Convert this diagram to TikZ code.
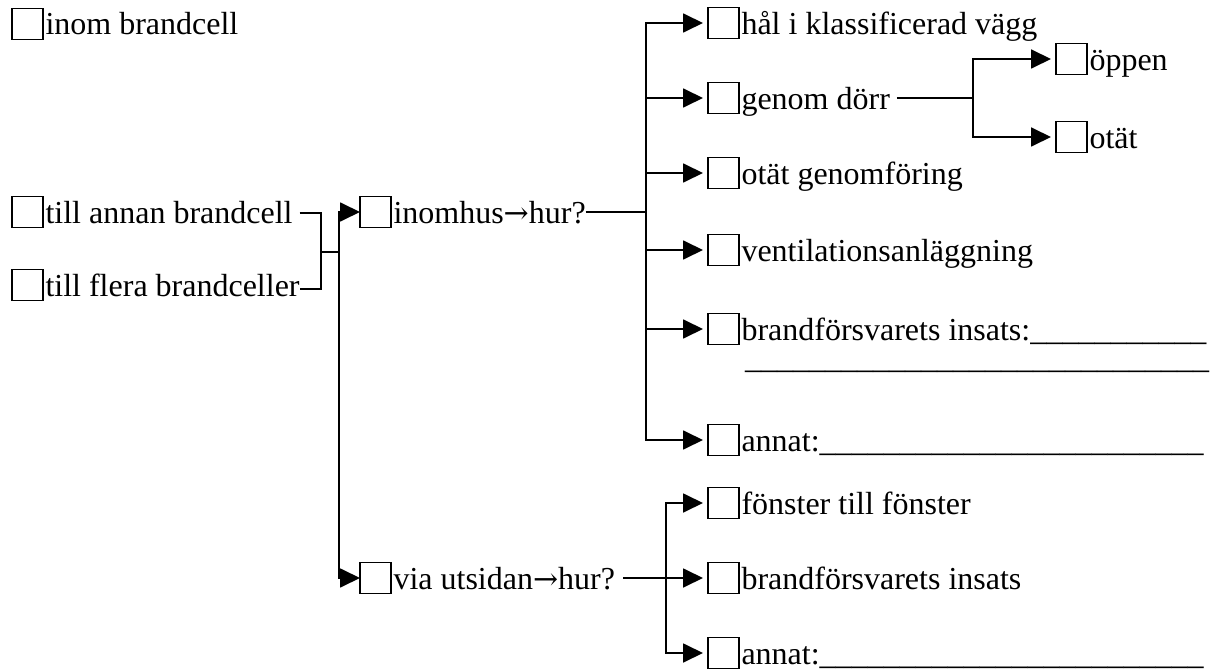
\documentclass[tikz,border=0pt]{standalone}
\usepackage{fontspec}
\setmainfont{Liberation Serif}
\newfontfamily\arrfont{DejaVu Serif}
\usetikzlibrary{arrows.meta}
\newcommand\cbitem[4]{%
  \node[chk] (#1b) at (#2,#3) {};
  \node[lbl] (#1) at ([xshift=2.5pt,yshift=-11.3pt]#1b.east) {#4};}
\newcommand\harr{{\arrfont\fontsize{30}{38}\selectfont →}}
\begin{document}
\begin{tikzpicture}[x=1pt,y=-1pt,
  chk/.style={draw, line width=1.1pt, minimum width=31pt, minimum height=31pt, inner sep=0pt, outer sep=0pt, anchor=west},
  lbl/.style={anchor=base west, inner sep=0pt, outer sep=0pt, font=\fontsize{32}{38}\selectfont},
  con/.style={line width=1.8pt},
  arr/.style={con, -{Triangle[length=20pt,width=19pt]}, shorten >=5pt}]
\useasboundingbox (0,0) rectangle (1210,671);

\cbitem{inom}{12}{23.7}{inom brandcell}
\cbitem{annan}{12}{212}{till annan brandcell}
\cbitem{flera}{12}{285}{till flera brandceller}
\cbitem{inomhus}{360}{212}{inomhus\harr hur?}
\cbitem{via}{360}{578}{via utsidan\harr hur?}
\cbitem{hal}{708}{23}{hål i klassificerad vägg}
\cbitem{dorr}{708}{98}{genom dörr}
\cbitem{oppen}{1056}{59}{öppen}
\cbitem{otat}{1056}{137}{otät}
\cbitem{genomf}{708}{173}{otät genomföring}
\cbitem{vent}{708}{250}{ventilationsanläggning}
\cbitem{brand}{708}{329}{brandförsvarets insats:\_\_\_\_\_\_\_\_\_\_\_}
\node[lbl, text height=0pt] (brandline) at (745,368) {\_\_\_\_\_\_\_\_\_\_\_\_\_\_\_\_\_\_\_\_\_\_\_\_\_\_\_\_\_};
\cbitem{annat}{708}{440}{annat:\_\_\_\_\_\_\_\_\_\_\_\_\_\_\_\_\_\_\_\_\_\_\_\_}
\cbitem{fonster}{708}{503}{fönster till fönster}
\cbitem{ubrand}{708}{578}{brandförsvarets insats}
\cbitem{uannat}{708}{653}{annat:\_\_\_\_\_\_\_\_\_\_\_\_\_\_\_\_\_\_\_\_\_\_\_\_}

% left merge
\coordinate (j1top) at (320.7,213.3);
\coordinate (j1bot) at (320.7,288.7);
\coordinate (j1mid) at (320.7,251.7);
\coordinate (j2) at (339.3,251.7);
\draw[con] ([xshift=7pt]annan.east |- j1top) -- (j1top) -- (j1bot) -- (flera.east |- j1bot);
\draw[con] (j1mid) -- (j2);
\draw[arr, shorten >=0pt] (j2) |- (inomhusb.west);
\draw[arr, shorten >=0pt] (j2) |- (viab.west);

% inomhus branch
\coordinate (j3) at (646,212);
\draw[con] (inomhus.east |- j3) -- (j3);
\draw[arr] (j3) |- (halb.west);
\draw[arr] (j3) |- (dorrb.west);
\draw[arr] (j3) |- (genomfb.west);
\draw[arr] (j3) |- (ventb.west);
\draw[arr] (j3) |- (brandb.west);
\draw[arr] (j3) |- (annatb.west);

% door branch
\coordinate (j4) at (972.7,98);
\draw[con] ([xshift=7pt]dorr.east |- j4) -- (j4);
\draw[arr] (j4) |- (oppenb.west);
\draw[arr] (j4) |- (otatb.west);

% outside branch
\coordinate (j5) at (666,578);
\draw[arr] ([xshift=8pt]via.east |- ubrandb.west) -- (ubrandb.west);
\draw[arr] (j5) |- (fonsterb.west);
\draw[arr] (j5) |- (uannatb.west);
\end{tikzpicture}
\end{document}
